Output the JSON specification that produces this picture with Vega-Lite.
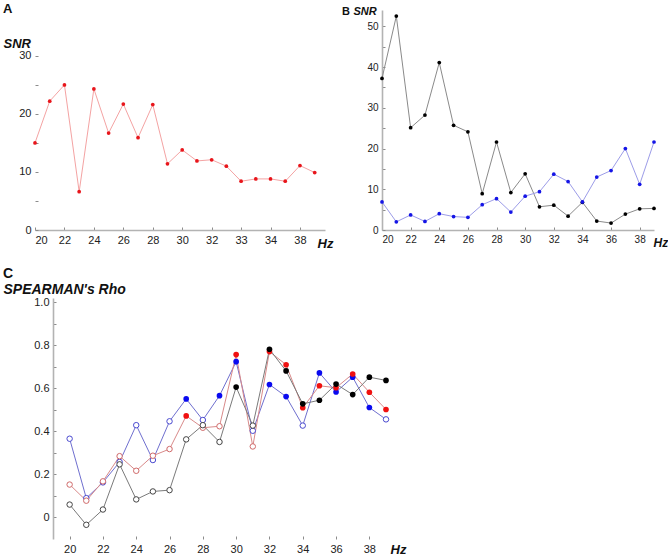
{
  "$schema": "https://vega.github.io/schema/vega-lite/v6.json",
  "padding": {"left": 3, "top": 3, "right": 0, "bottom": 0},
  "background": "white",
  "config": {
    "view": {"stroke": null},
    "font": "Liberation Sans",
    "axis": {
      "grid": false,
      "domainColor": "#b3b3b3",
      "domainWidth": 1.6,
      "tickColor": "#8c8c8c",
      "tickSize": -3,
      "labelPadding": 7,
      "labelFont": "Liberation Sans",
      "labelColor": "#222222",
      "labelFontSize": 11,
      "titleFont": "Liberation Sans",
      "titleFontWeight": "bold",
      "titleFontStyle": "italic",
      "titleColor": "#111111",
      "titleAngle": 0,
      "titleAlign": "left",
      "titleBaseline": "alphabetic"
    },
    "title": {"font": "Liberation Sans", "fontWeight": "bold", "color": "#111111", "anchor": "start", "frame": "group"}
  },
  "datasets": {
    "snrA": [
      {"hz": 20, "snr": 15.0}, {"hz": 21, "snr": 22.2}, {"hz": 22, "snr": 25.0}, {"hz": 23, "snr": 6.6},
      {"hz": 24, "snr": 24.3}, {"hz": 25, "snr": 16.7}, {"hz": 26, "snr": 21.7}, {"hz": 27, "snr": 15.9},
      {"hz": 28, "snr": 21.6}, {"hz": 29, "snr": 11.4}, {"hz": 30, "snr": 13.8}, {"hz": 31, "snr": 11.9},
      {"hz": 32, "snr": 12.1}, {"hz": 33, "snr": 11.0}, {"hz": 34, "snr": 8.4}, {"hz": 35, "snr": 8.8},
      {"hz": 36, "snr": 8.8}, {"hz": 37, "snr": 8.4}, {"hz": 38, "snr": 11.1}, {"hz": 39, "snr": 9.9}
    ],
    "snrB": [
      {"hz": 20, "snr": 37.2, "series": "1"}, {"hz": 21, "snr": 52.5, "series": "1"}, {"hz": 22, "snr": 25.1, "series": "1"},
      {"hz": 23, "snr": 28.2, "series": "1"}, {"hz": 24, "snr": 41.1, "series": "1"}, {"hz": 25, "snr": 25.7, "series": "1"},
      {"hz": 26, "snr": 24.1, "series": "1"}, {"hz": 27, "snr": 8.9, "series": "1"}, {"hz": 28, "snr": 21.6, "series": "1"},
      {"hz": 29, "snr": 9.2, "series": "1"}, {"hz": 30, "snr": 13.8, "series": "1"}, {"hz": 31, "snr": 5.7, "series": "1"},
      {"hz": 32, "snr": 6.1, "series": "1"}, {"hz": 33, "snr": 3.4, "series": "1"}, {"hz": 34, "snr": 6.8, "series": "1"},
      {"hz": 35, "snr": 2.2, "series": "1"}, {"hz": 36, "snr": 1.7, "series": "1"}, {"hz": 37, "snr": 3.9, "series": "1"},
      {"hz": 38, "snr": 5.2, "series": "1"}, {"hz": 39, "snr": 5.3, "series": "1"},
      {"hz": 20, "snr": 6.9, "series": "2"}, {"hz": 21, "snr": 2.0, "series": "2"}, {"hz": 22, "snr": 3.7, "series": "2"},
      {"hz": 23, "snr": 2.1, "series": "2"}, {"hz": 24, "snr": 4.0, "series": "2"}, {"hz": 25, "snr": 3.3, "series": "2"},
      {"hz": 26, "snr": 3.1, "series": "2"}, {"hz": 27, "snr": 6.2, "series": "2"}, {"hz": 28, "snr": 7.7, "series": "2"},
      {"hz": 29, "snr": 4.4, "series": "2"}, {"hz": 30, "snr": 8.3, "series": "2"}, {"hz": 31, "snr": 9.4, "series": "2"},
      {"hz": 32, "snr": 13.7, "series": "2"}, {"hz": 33, "snr": 11.9, "series": "2"}, {"hz": 34, "snr": 6.9, "series": "2"},
      {"hz": 35, "snr": 13.0, "series": "2"}, {"hz": 36, "snr": 14.6, "series": "2"}, {"hz": 37, "snr": 20.0, "series": "2"},
      {"hz": 38, "snr": 11.2, "series": "2"}, {"hz": 39, "snr": 21.6, "series": "2"}
    ],
    "rho": [
      {"hz": 20, "rho": 0.366, "series": "blue", "sig": false}, {"hz": 21, "rho": 0.090, "series": "blue", "sig": false},
      {"hz": 22, "rho": 0.163, "series": "blue", "sig": false}, {"hz": 23, "rho": 0.258, "series": "blue", "sig": false},
      {"hz": 24, "rho": 0.429, "series": "blue", "sig": false}, {"hz": 25, "rho": 0.267, "series": "blue", "sig": false},
      {"hz": 26, "rho": 0.447, "series": "blue", "sig": false}, {"hz": 27, "rho": 0.551, "series": "blue", "sig": true},
      {"hz": 28, "rho": 0.453, "series": "blue", "sig": false}, {"hz": 29, "rho": 0.566, "series": "blue", "sig": true},
      {"hz": 30, "rho": 0.724, "series": "blue", "sig": true}, {"hz": 31, "rho": 0.403, "series": "blue", "sig": false},
      {"hz": 32, "rho": 0.618, "series": "blue", "sig": true}, {"hz": 33, "rho": 0.562, "series": "blue", "sig": true},
      {"hz": 34, "rho": 0.427, "series": "blue", "sig": false}, {"hz": 35, "rho": 0.672, "series": "blue", "sig": true},
      {"hz": 36, "rho": 0.583, "series": "blue", "sig": true}, {"hz": 37, "rho": 0.652, "series": "blue", "sig": true},
      {"hz": 38, "rho": 0.511, "series": "blue", "sig": true}, {"hz": 39, "rho": 0.456, "series": "blue", "sig": false},
      {"hz": 20, "rho": 0.153, "series": "red", "sig": false}, {"hz": 21, "rho": 0.078, "series": "red", "sig": false},
      {"hz": 22, "rho": 0.168, "series": "red", "sig": false}, {"hz": 23, "rho": 0.285, "series": "red", "sig": false},
      {"hz": 24, "rho": 0.217, "series": "red", "sig": false}, {"hz": 25, "rho": 0.287, "series": "red", "sig": false},
      {"hz": 26, "rho": 0.318, "series": "red", "sig": false}, {"hz": 27, "rho": 0.472, "series": "red", "sig": true},
      {"hz": 28, "rho": 0.417, "series": "red", "sig": false}, {"hz": 29, "rho": 0.424, "series": "red", "sig": false},
      {"hz": 30, "rho": 0.757, "series": "red", "sig": true}, {"hz": 31, "rho": 0.330, "series": "red", "sig": false},
      {"hz": 32, "rho": 0.771, "series": "red", "sig": true}, {"hz": 33, "rho": 0.710, "series": "red", "sig": true},
      {"hz": 34, "rho": 0.510, "series": "red", "sig": true}, {"hz": 35, "rho": 0.612, "series": "red", "sig": true},
      {"hz": 36, "rho": 0.603, "series": "red", "sig": true}, {"hz": 37, "rho": 0.667, "series": "red", "sig": true},
      {"hz": 38, "rho": 0.582, "series": "red", "sig": true}, {"hz": 39, "rho": 0.502, "series": "red", "sig": true},
      {"hz": 20, "rho": 0.060, "series": "black", "sig": false}, {"hz": 21, "rho": -0.034, "series": "black", "sig": false},
      {"hz": 22, "rho": 0.037, "series": "black", "sig": false}, {"hz": 23, "rho": 0.247, "series": "black", "sig": false},
      {"hz": 24, "rho": 0.084, "series": "black", "sig": false}, {"hz": 25, "rho": 0.121, "series": "black", "sig": false},
      {"hz": 26, "rho": 0.127, "series": "black", "sig": false}, {"hz": 27, "rho": 0.363, "series": "black", "sig": false},
      {"hz": 28, "rho": 0.429, "series": "black", "sig": false}, {"hz": 29, "rho": 0.351, "series": "black", "sig": false},
      {"hz": 30, "rho": 0.606, "series": "black", "sig": true}, {"hz": 31, "rho": 0.427, "series": "black", "sig": false},
      {"hz": 32, "rho": 0.782, "series": "black", "sig": true}, {"hz": 33, "rho": 0.681, "series": "black", "sig": true},
      {"hz": 34, "rho": 0.528, "series": "black", "sig": true}, {"hz": 35, "rho": 0.545, "series": "black", "sig": true},
      {"hz": 36, "rho": 0.620, "series": "black", "sig": true}, {"hz": 37, "rho": 0.571, "series": "black", "sig": true},
      {"hz": 38, "rho": 0.652, "series": "black", "sig": true}, {"hz": 39, "rho": 0.637, "series": "black", "sig": true}
    ]
  },
  "vconcat": [
    {
      "hconcat": [
        {
          "width": 290,
          "height": 220,
          "title": {"text": "A", "fontSize": 13, "dx": -32, "dy": 10},
          "data": {"name": "snrA"},
          "encoding": {
            "x": {
              "field": "hz", "type": "quantitative",
              "scale": {"domain": [20, 39.7], "nice": false, "zero": false},
              "axis": {
                "values": [20, 22, 24, 26, 28, 30, 32, 34, 36, 38],
                "labelExpr": "datum.value == 34 ? '33' : datum.value == 36 ? '34' : datum.label",
                "title": "Hz", "titleFontSize": 13, "titleX": 282, "titleY": 17
              }
            },
            "y": {
              "field": "snr", "type": "quantitative",
              "scale": {"domain": [0, 37.9], "nice": false},
              "axis": {
                "domain": false,
                "values": [0, 5, 10, 15, 20, 25, 30],
                "labelExpr": "datum.value % 10 == 0 ? datum.label : ''",
                "title": "SNR", "titleFontSize": 13, "titleX": -32, "titleY": 37
              }
            }
          },
          "layer": [
            {
              "data": {"values": [{}]},
              "mark": {"type": "rule", "color": "#b3b3b3", "strokeWidth": 1.6},
              "encoding": {
                "x": {"datum": 20, "type": "quantitative"},
                "y": {"datum": 0, "type": "quantitative"},
                "y2": {"datum": 30.6}
              }
            },
            {"mark": {"type": "line", "color": "#f4a3a3", "strokeWidth": 1}},
            {"mark": {"type": "point", "filled": true, "opacity": 1, "color": "#e8151b", "size": 14}}
          ]
        },
        {
          "width": 272,
          "height": 220,
          "title": {"text": "B", "fontSize": 11, "dx": -40, "dy": 16},
          "data": {"name": "snrB"},
          "encoding": {
            "x": {
              "field": "hz", "type": "quantitative",
              "scale": {"domain": [20, 39], "nice": false, "zero": false},
              "axis": {
                "values": [20, 22, 24, 26, 28, 30, 32, 34, 36, 38],
                "labelFontSize": 10,
                "title": "Hz", "titleFontSize": 12, "titleX": 271, "titleY": 16
              }
            },
            "y": {
              "field": "snr", "type": "quantitative",
              "scale": {"domain": [0, 54], "nice": false},
              "axis": {
                "values": [0, 5, 10, 15, 20, 25, 30, 35, 40, 45, 50],
                "labelExpr": "datum.value % 10 == 0 ? datum.label : ''",
                "labelFontSize": 10,
                "title": "SNR", "titleFontSize": 11, "titleX": -29, "titleY": 4
              }
            }
          },
          "layer": [
            {
              "mark": {"type": "line", "strokeWidth": 1},
              "encoding": {
                "color": {
                  "field": "series", "type": "nominal", "legend": null,
                  "scale": {"domain": ["1", "2"], "range": ["#8a8a8a", "#9c9ce8"]}
                }
              }
            },
            {
              "mark": {"type": "point", "filled": true, "opacity": 1, "size": 14},
              "encoding": {
                "color": {
                  "field": "series", "type": "nominal", "legend": null,
                  "scale": {"domain": ["1", "2"], "range": ["#000000", "#1515e6"]}
                }
              }
            }
          ],
          "resolve": {"scale": {"color": "independent"}}
        }
      ],
      "spacing": 9
    },
    {
      "width": 356,
      "height": 241,
      "title": {"text": "C", "fontSize": 14, "dx": -32, "dy": 3},
      "data": {"name": "rho"},
      "encoding": {
        "x": {
          "field": "hz", "type": "quantitative",
          "scale": {"domain": [17.92, 39.3], "nice": false, "zero": false},
          "axis": {
            "domain": false,
            "values": [20, 22, 24, 26, 28, 30, 32, 34, 36, 38],
            "title": "Hz", "titleFontSize": 13, "titleX": 355, "titleY": 14
          }
        },
        "y": {
          "field": "rho", "type": "quantitative",
          "scale": {"domain": [-0.1, 1.02], "nice": false, "zero": false},
          "axis": {
            "offset": -18,
            "values": [0, 0.1, 0.2, 0.3, 0.4, 0.5, 0.6, 0.7, 0.8, 0.9, 1.0],
            "labelExpr": "datum.value == 0 ? '0' : (round(datum.value * 10) % 2 == 0 ? format(datum.value, '.1f') : '')",
            "title": "SPEARMAN's Rho", "titleFontSize": 14, "titleX": -50, "titleY": -5
          }
        }
      },
      "layer": [
        {
          "data": {"values": [{}]},
          "mark": {"type": "rule", "color": "#b3b3b3", "strokeWidth": 1.6},
          "encoding": {
            "x": {"datum": 19, "type": "quantitative"},
            "x2": {"datum": 39.3},
            "y": {"datum": -0.1, "type": "quantitative"}
          }
        },
        {
          "mark": {"type": "line", "strokeWidth": 1},
          "encoding": {
            "color": {
              "field": "series", "type": "nominal", "legend": null,
              "scale": {"domain": ["blue", "red", "black"], "range": ["#6f6fcf", "#d98a8a", "#7a7a7a"]}
            }
          }
        },
        {
          "transform": [{"filter": "!datum.sig"}],
          "mark": {"type": "point", "filled": false, "fill": "white", "opacity": 1, "size": 30, "strokeWidth": 1},
          "encoding": {
            "color": {
              "field": "series", "type": "nominal", "legend": null,
              "scale": {"domain": ["blue", "red", "black"], "range": ["#4a4ad0", "#d06a6a", "#444444"]}
            }
          }
        },
        {
          "transform": [{"filter": "datum.sig"}],
          "mark": {"type": "point", "filled": true, "opacity": 1, "size": 32},
          "encoding": {
            "color": {
              "field": "series", "type": "nominal", "legend": null,
              "scale": {"domain": ["blue", "red", "black"], "range": ["#0a0af0", "#f01010", "#000000"]}
            }
          }
        }
      ],
      "resolve": {"scale": {"color": "independent"}}
    }
  ],
  "spacing": 17
}
